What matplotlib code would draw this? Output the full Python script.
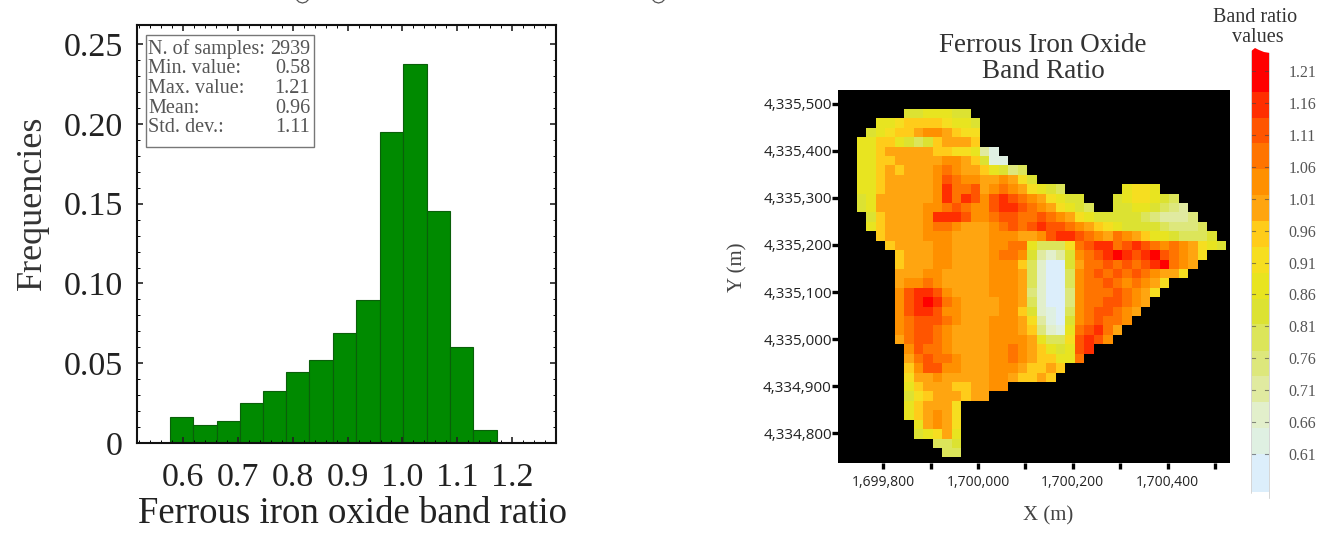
#!/usr/bin/env python3
"""Histogram of ferrous iron oxide band ratio next to its map."""

import matplotlib

matplotlib.use("Agg")
import matplotlib.pyplot as plt
import numpy as np
from matplotlib.colors import ListedColormap
from matplotlib.lines import Line2D
from matplotlib.patches import Polygon

SERIF = "Liberation Serif"
SANS = "Open Sans"

BIN_EDGES = [0.576, 0.619, 0.661, 0.7035, 0.7455, 0.7885, 0.8305, 0.874, 0.916,
             0.959, 1.001, 1.045, 1.0865, 1.1285, 1.172]
FREQUENCIES = [0.0162, 0.0115, 0.014, 0.0253, 0.0326, 0.0445, 0.0523, 0.0687,
               0.0895, 0.195, 0.2375, 0.1454, 0.06, 0.008]
HIST_XTICKS = [0.6, 0.7, 0.8, 0.9, 1.0, 1.1, 1.2]
HIST_YTICKS = [0, 0.05, 0.10, 0.15, 0.20, 0.25]
HIST_YLABELS = ["0", "0.05", "0.10", "0.15", "0.20", "0.25"]
STAT_NAMES = ["N. of samples:", "Min. value:", "Max. value:", "Mean:", "Std. dev.:"]
STAT_VALUES = ["2939", "0.58", "1.21", "0.96", "1.11"]

MAP_XTICKS = [1699800, 1699900, 1700000, 1700100, 1700200, 1700300, 1700400, 1700500]
MAP_XLABELS = ["1,699,800", "", "1,700,000", "", "1,700,200", "", "1,700,400", ""]
MAP_YTICKS = [4334800, 4334900, 4335000, 4335100, 4335200, 4335300, 4335400, 4335500]
MAP_YLABELS = ["4,334,800", "4,334,900", "4,335,000", "4,335,100",
               "4,335,200", "4,335,300", "4,335,400", "4,335,500"]

BAND_COLORS = ["#DCEEFB", "#DFF0E2", "#E2EFCB", "#E0EAA0", "#DDE77C", "#DCE55A",
               "#DCE232", "#E8E420", "#F6DE20", "#FFCC1A", "#FFA510", "#FF9000",
               "#FF7400", "#FF5500", "#FF2E00", "#FF0000"]
BAND_EDGES = [0.55, 0.61, 0.651, 0.691, 0.732, 0.772, 0.813, 0.853, 0.894, 0.935,
              0.975, 1.016, 1.056, 1.097, 1.137, 1.178, 1.25]
BAR_TICKS = [0.61, 0.66, 0.71, 0.76, 0.81, 0.86, 0.91, 0.96, 1.01, 1.06, 1.11, 1.16, 1.21]

# map cells, 20 m square: first column of each row and one hex band level per cell
MAP_FIRST_ROW = 2
MAP_STARTS = [7, 4, 3, 2, 2, 2, 2, 2, 2, 2, 2, 3, 3, 4, 5, 6, 6, 6, 6, 6, 6, 6, 6,
              6, 6, 7, 7, 7, 7, 7, 7, 7, 7, 8, 8, 10, 11]
MAP_ROWS = [
    "6677766",
    "77899998776",
    "67899abba988",
    "779976569aaa9",
    "779aaaaa9988731",
    "7799aaaaabba9611",
    "779a9aaabcbaa97645",
    "779aaaaabdcbbaaba86",
    "779aaaaabeccdabcba8765......7887",
    "67aaaaaabecedbdedcba8766...6788765",
    "67aaaaabbcdcbbdeedcba8765..66776543",
    "69aaaabeeedbbcddccdcba8766666543334",
    "79aaaabccbaaabcdcdeddcba987666654445",
    "9aaaabbbaaaabbbaabdeedcbacba97765556",
    "9aaaabbaaaabbcc75558cdeecdedcbcba876",
    "9aaabbaaaabccb63236bcdefedefdcba8",
    "9aaabbaaaabbb952006accdcdcdefcba",
    "aaabbaaaaabbba52005bcdcdcdcbaa8",
    "abbcbaaaaabbba52005bccdcbcba8",
    "bdeedbaaaabbba42004bcccdcba8",
    "bdefecbaaaabba52004bccddcba",
    "bdeedbbaaaabb962105bcddcba",
    "bcdddcbaaabbba83106bcdccb",
    "bcddcbaaaabbba94217cdeca",
    "acddcbaaaabbbba7558dedb",
    "bdccbaaaabbcba9767de",
    "acdccbaaabbcba9977c",
    "9bddbbaaabbba99a9",
    "8aabaaaaabba99a9",
    "79aaa99aabb",
    "689aaa9aa",
    "79aaa8",
    "79aba8",
    "7aba8",
    "678a7",
    "556",
    "55",
]
MAP_XLIM = (1699704, 1700532)
MAP_YLIM = (4334737, 4335529)
CELL = 20

plt.rcParams.update({"font.family": SERIF})

W, H = 1336, 543


def axes_px(fig, left, top, right, bottom):
    return fig.add_axes([left / W, 1 - bottom / H, (right - left) / W, (bottom - top) / H])


def text_px(fig, x, y, s, **kw):
    kw.setdefault("ha", "center")
    kw.setdefault("va", "center")
    fig.text(x / W, 1 - y / H, s, **kw)


def white_wave(fig, points):
    fig.add_artist(Polygon([(x / W, 1 - y / H) for x, y in points], closed=True,
                           transform=fig.transFigure, facecolor="white",
                           edgecolor="none", zorder=5))


def stray_arc(fig, left):
    # bottom of a letter from the line above, cropped by the picture edge
    xs = [left, left + 2, left + 5.5, left + 9, left + 11]
    ys = [0, 2, 3, 2, 0]
    fig.add_artist(Line2D([x / W for x in xs], [1 - y / H for y in ys],
                          transform=fig.transFigure, color="#555555", linewidth=0.9))


fig = plt.figure(figsize=(W / 100, H / 100), dpi=100, facecolor="white")

stray_arc(fig, 297)
stray_arc(fig, 653)

# histogram
ax = axes_px(fig, 137, 25, 556, 443)
edges = np.array(BIN_EDGES)
ax.bar(edges[:-1], FREQUENCIES, width=np.diff(edges), align="edge",
       color="#008A00", edgecolor="#0A5F0A", linewidth=0.8)
ax.set_xlim(0.516, 1.28)
ax.set_ylim(0, 0.262)
ax.set_xticks(HIST_XTICKS, [f"{v:.1f}" for v in HIST_XTICKS])
ax.set_yticks(HIST_YTICKS, HIST_YLABELS)
ax.set_xticks(np.arange(0.52, 1.28, 0.02), minor=True)
ax.set_yticks(np.arange(0, 0.26, 0.01), minor=True)
ax.tick_params(which="major", direction="in", top=True, right=True, length=4,
               width=1.2, labelsize=24.5, colors="#222222", pad=14)
ax.tick_params(which="minor", direction="in", top=True, right=True, length=2, width=0.7)
ax.tick_params(axis="y", which="major", pad=10)
for spine in ax.spines.values():
    spine.set_linewidth(1.5)
    spine.set_color("#111111")
text_px(fig, 352, 514, "Ferrous iron oxide band ratio", fontsize=26.5, color="#222222")
text_px(fig, 32, 203, "Frequencies", fontsize=26, rotation=90, color="#333333")

box = plt.Rectangle((146 / W, 1 - 147 / H), 168 / W, 112 / H, transform=fig.transFigure,
                    facecolor="white", edgecolor="#777777", linewidth=1.0, zorder=5)
fig.add_artist(box)
for i, (name, value) in enumerate(zip(STAT_NAMES, STAT_VALUES)):
    y = 49 + i * 19.7
    text_px(fig, 148, y, name, ha="left", fontsize=14.5, color="#555555", zorder=6)
    text_px(fig, 310, y, value, ha="right", fontsize=14.5, color="#555555", zorder=6)

# map
mx = axes_px(fig, 838, 90, 1230, 463)
x_edges = MAP_XLIM[0] + CELL * np.arange(43)
y_edges = MAP_YLIM[1] - CELL * np.arange(41)
cells = np.full((40, 42), np.nan)
for r, (start, row) in enumerate(zip(MAP_STARTS, MAP_ROWS)):
    for c, ch in enumerate(row):
        if ch != ".":
            cells[MAP_FIRST_ROW + r, start + c] = int(ch, 16)
mx.set_facecolor("black")
mx.pcolormesh(x_edges, y_edges, np.ma.masked_invalid(cells),
              cmap=ListedColormap(BAND_COLORS), vmin=-0.5, vmax=15.5)
mx.set_xlim(*MAP_XLIM)
mx.set_ylim(*MAP_YLIM)
mx.set_xticks(MAP_XTICKS, MAP_XLABELS, family=SANS, fontsize=10)
mx.set_yticks(MAP_YTICKS, MAP_YLABELS, family=SANS, fontsize=11)
mx.tick_params(axis="both", length=4, width=2.4, color="black", labelcolor="#222222")
mx.tick_params(axis="x", pad=5)
mx.tick_params(axis="y", pad=0.5)
for spine in mx.spines.values():
    spine.set_visible(False)
text_px(fig, 1043, 45, "Ferrous Iron Oxide", fontsize=19.5, color="#333333")
text_px(fig, 1043, 72, "Band Ratio", fontsize=19.5, color="#333333")
text_px(fig, 1048, 516, "X (m)", fontsize=15, color="#444444")
text_px(fig, 738, 267, "Y (m)", fontsize=15, rotation=90, color="#444444")

# colour bar
cb = axes_px(fig, 1251, 48, 1269, 500)
band_edges = np.array(BAND_EDGES)
cb.bar(np.zeros(16), np.diff(band_edges), width=1, bottom=band_edges[:-1], color=BAND_COLORS)
cb.set_xlim(-0.5, 0.5)
cb.set_ylim(0.5375, 1.2435 + 0.0031)
cb.set_xticks([])
cb.yaxis.tick_right()
cb.set_yticks(BAR_TICKS, [f"{v:.2f}" for v in BAR_TICKS])
cb.tick_params(axis="y", length=0, labelsize=11.5, labelcolor="#555555", pad=14)
for v in BAR_TICKS:
    cb.plot([-0.5, -0.28], [v, v], color="#444444", lw=0.8, alpha=0.6)
    cb.plot([0.28, 0.5], [v, v], color="#444444", lw=0.8, alpha=0.6)
for side, spine in cb.spines.items():
    spine.set_visible(side in ("left", "right"))
    spine.set_color("#D5D5D5")
    spine.set_linewidth(0.7)
white_wave(fig, [(1250, 46), (1270, 46), (1270, 53), (1264, 52), (1259, 50), (1255, 48), (1250, 52)])
white_wave(fig, [(1250, 494), (1255, 493), (1261, 499), (1264, 497), (1270, 499), (1270, 502), (1250, 502)])
text_px(fig, 1255, 18, "Band ratio", fontsize=14.5, color="#333333")
text_px(fig, 1258, 38, "values", fontsize=14.5, color="#333333")

fig.savefig("out.png", dpi=100)
plt.close(fig)
